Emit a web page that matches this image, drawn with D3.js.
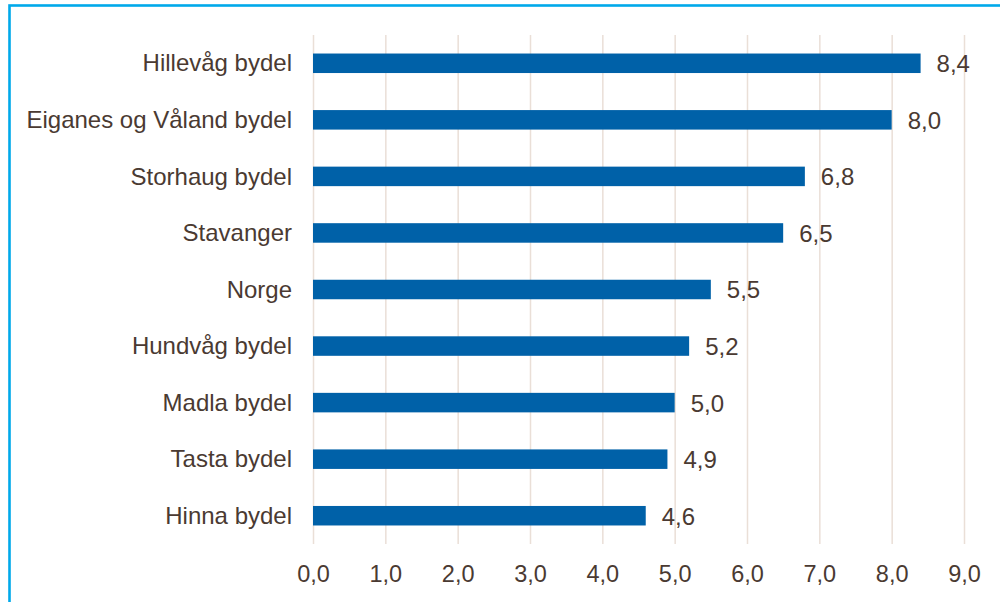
<!DOCTYPE html>
<html>
<head>
<meta charset="utf-8">
<script src="https://cdn.jsdelivr.net/npm/d3@7"></script>
<style>
  html, body { margin: 0; padding: 0; background: #fff; }
  svg { display: block; }
  text { font-family: "Liberation Sans", Arial, sans-serif; fill: #4a3a32; }
</style>
</head>
<body>
<div id="chart"></div>
<script>
// Data
const categories = ["Hillevåg bydel", "Eiganes og Våland bydel", "Storhaug bydel", "Stavanger",
                    "Norge", "Hundvåg bydel", "Madla bydel", "Tasta bydel", "Hinna bydel"];
const values = [8.4, 8.0, 6.8, 6.5, 5.5, 5.2, 5.0, 4.9, 4.6];
const tickValues = [0, 1, 2, 3, 4, 5, 6, 7, 8, 9];

const width = 1000;
const height = 602;
const margin = {top: 35, right: 36, bottom: 58, left: 313};

const fmt = v => d3.format(".1f")(v).replace(".", ",");

const data = categories.map((c, i) => ({name: c, value: values[i]}));

const svg = d3.select("#chart").append("svg")
  .attr("width", width)
  .attr("height", height);

// frame round the chart (runs off the right and bottom edge)
svg.append("rect")
  .attr("x", 9.5)
  .attr("y", 5.5)
  .attr("width", 1020)
  .attr("height", 700)
  .attr("fill", "none")
  .attr("stroke", "#00a9ea")
  .attr("stroke-width", 2.6);

const xscale = d3.scaleLinear()
  .domain([0, 9])
  .range([margin.left, width - margin.right]);

const yscale = d3.scaleBand()
  .domain(categories)
  .range([margin.top, height - margin.bottom])
  .paddingInner(0.655)
  .paddingOuter(0.3275);

// vertical gridlines
svg.append("g")
  .selectAll("line")
  .data(tickValues)
  .join("line")
  .attr("x1", d => xscale(d) + 0.5)
  .attr("x2", d => xscale(d) + 0.5)
  .attr("y1", yscale.range()[0])
  .attr("y2", yscale.range()[1])
  .attr("stroke", "#eadfd7")
  .attr("stroke-width", 1.5);

// x axis labels
const xAxis = g => g
  .attr("transform", `translate(0, ${height - margin.bottom})`)
  .call(d3.axisBottom(xscale).tickValues(tickValues).tickFormat(fmt).tickSize(0).tickPadding(21))
  .call(g => g.select(".domain").remove())
  .call(g => g.selectAll("text")
    .attr("font-size", 23.5)
    .attr("font-family", null)
    .attr("fill", null));

svg.append("g").call(xAxis);

// category labels
const yAxis = g => g
  .attr("transform", `translate(${margin.left - 21},0.5)`)
  .call(d3.axisLeft(yscale).tickSize(0).tickPadding(0))
  .call(g => g.select(".domain").remove())
  .call(g => g.selectAll("text")
    .attr("font-size", 24)
    .attr("font-family", null)
    .attr("fill", null));

svg.append("g").call(yAxis);

// bars
svg.append("g")
  .attr("fill", "#0061a8")
  .selectAll("rect")
  .data(data)
  .join("rect")
  .attr("x", xscale(0))
  .attr("y", d => yscale(d.name))
  .attr("width", d => xscale(d.value) - xscale(0))
  .attr("height", yscale.bandwidth());

// value labels
svg.append("g")
  .selectAll("text")
  .data(data)
  .join("text")
  .attr("x", d => xscale(d.value) + 16)
  .attr("y", d => yscale(d.name) + yscale.bandwidth() / 2 + 0.5)
  .attr("dy", "0.35em")
  .attr("font-size", 24)
  .text(d => fmt(d.value));
</script>
</body>
</html>
